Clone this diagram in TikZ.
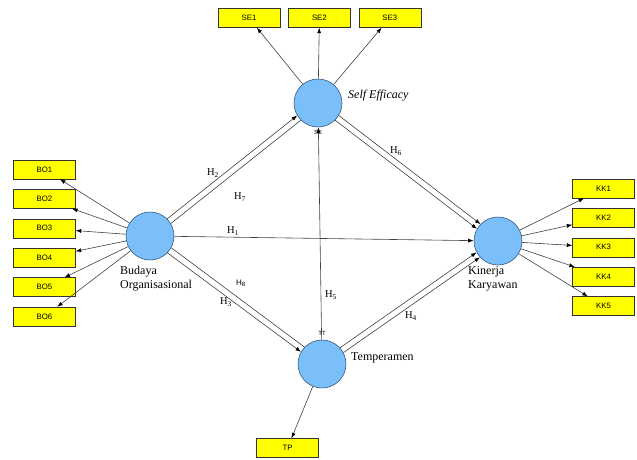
\documentclass[tikz,border=0pt]{standalone}
\usepackage{fontspec}
\setmainfont{Liberation Serif}
\setsansfont{Liberation Sans}
\usetikzlibrary{arrows.meta,positioning}

\definecolor{latentblue}{RGB}{122,190,250}
\definecolor{latentline}{RGB}{60,90,125}
\definecolor{itemyellow}{RGB}{255,255,0}

\begin{document}
\begin{tikzpicture}[x=1pt,y=-1pt,
latent/.style={circle, draw=latentline, fill=latentblue, minimum size=48pt, inner sep=0pt, line width=0.6pt},
item/.style={draw=black!80, fill=itemyellow, minimum width=62pt, minimum height=19pt, inner sep=0pt, font=\sffamily\fontsize{7.8}{8}\selectfont},
tag/.style={font=\fontsize{12}{14}\selectfont, align=left, inner sep=0pt},
hyp/.style={font=\fontsize{10.5}{12}\selectfont, inner sep=0pt},
tinytag/.style={font=\sffamily\fontsize{6}{6}\selectfont, inner sep=0pt},
arrow/.style={-{Latex[length=5.5pt,width=4pt,color=black]}, draw=black!75, line width=0.6pt},
plain/.style={draw=black!75, line width=0.6pt}
]
\useasboundingbox (0,0) rectangle (637,460);

% constructs
\node[latent] (se) at (318,103) {};
\node[latent] (bud) at (150,236) {};
\node[latent] (kin) at (498,241) {};
\node[latent] (tem) at (322,364) {};
\node[tag, font=\itshape\fontsize{12}{14}\selectfont, anchor=west] (selabel) at (348,96) {Self Efficacy};
\node[tag, anchor=north west] (budlabel) at (120,266) {Budaya\\Organisasional};
\node[tag, anchor=north west] (kinlabel) at (468,266) {Kinerja\\Karyawan};
\node[tag, anchor=west] (temlabel) at (351,358) {Temperamen};
\node[tinytag] (semark) at (318,132) {SE};
\node[tinytag] (ttmark) at (322,333) {TT};

% indicators
\node[item] (se1) at (249,18) {SE1};
\node[item, right=8pt of se1] (se2) {SE2};
\node[item, right=8pt of se2] (se3) {SE3};
\node[item] (bo1) at (44.5,169.5) {BO1};
\node[item, below=10pt of bo1] (bo2) {BO2};
\node[item, below=10pt of bo2] (bo3) {BO3};
\node[item, below=10pt of bo3] (bo4) {BO4};
\node[item, below=10pt of bo4] (bo5) {BO5};
\node[item, below=10pt of bo5] (bo6) {BO6};
\node[item] (kk1) at (603.5,188.5) {KK1};
\node[item, below=10pt of kk1] (kk2) {KK2};
\node[item, below=10pt of kk2] (kk3) {KK3};
\node[item, below=10pt of kk3] (kk4) {KK4};
\node[item, below=10pt of kk4] (kk5) {KK5};
\node[item] (tp) at (287.5,448) {TP};

\draw[arrow] (se) -- (se1);
\draw[arrow] (se) -- (se2);
\draw[arrow] (se) -- (se3);
\draw[arrow] (bud) -- (bo1);
\draw[arrow] (bud) -- (bo2);
\draw[arrow] (bud) -- (bo3);
\draw[arrow] (bud) -- (bo4);
\draw[arrow] (bud) -- (bo5);
\draw[arrow] (bud) -- (bo6);
\draw[arrow] (kin) -- (kk1);
\draw[arrow] (kin) -- (kk2);
\draw[arrow] (kin) -- (kk3);
\draw[arrow] (kin) -- (kk4);
\draw[arrow] (kin) -- (kk5);
\draw[arrow] (tem) -- (tp);

% paths between constructs
\draw[arrow] (bud) -- (kin);
\draw[arrow] (bud.45) -- (se.211);
\draw[plain] (bud.31) -- (se.225);
\draw[arrow] (se.329) -- (kin.136);
\draw[arrow] (se.315) -- (kin.150);
\draw[plain] (bud.331) -- (tem.136);
\draw[arrow] (bud.316) -- (tem.150);
\draw[arrow] (tem.42) -- (kin.208);
\draw[arrow] (tem.28) -- (kin.222);
\draw[arrow] (tem) -- (se);

\node[hyp] (h1) at (233,231) {H\textsubscript{1}};
\node[hyp] (h2) at (213,173) {H\textsubscript{2}};
\node[hyp] (h3) at (226,302) {H\textsubscript{3}};
\node[hyp] (h4) at (411,316) {H\textsubscript{4}};
\node[hyp] (h5) at (331,295) {H\textsubscript{5}};
\node[hyp] (h6) at (396,151) {H\textsubscript{6}};
\node[hyp] (h7) at (240,197) {H\textsubscript{7}};
\node[hyp, font=\sffamily\fontsize{8}{9}\selectfont] (h8) at (241,283) {H\textsubscript{8}};
\end{tikzpicture}
\end{document}
